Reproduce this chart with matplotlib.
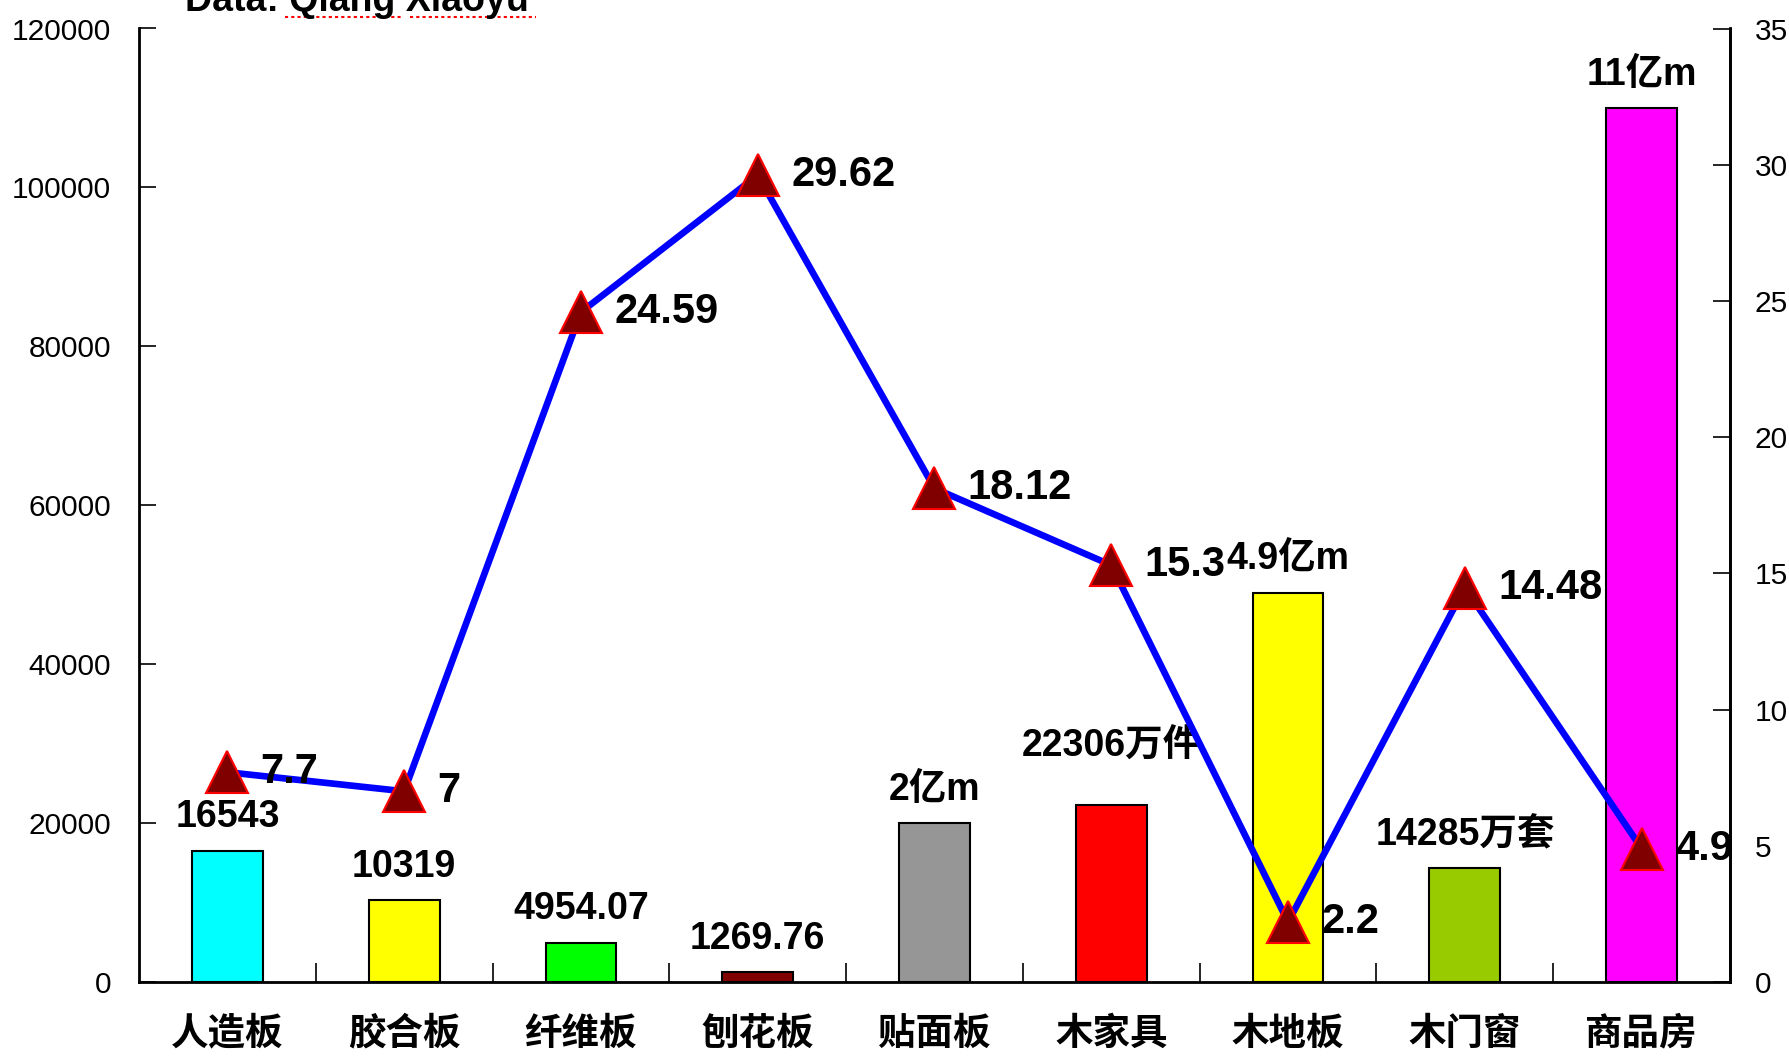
import matplotlib
matplotlib.use("Agg")
import matplotlib.pyplot as plt
from matplotlib.lines import Line2D

# ---- data ----
categories = ["人造板", "胶合板", "纤维板", "刨花板", "贴面板", "木家具", "木地板", "木门窗", "商品房"]
bar_values = [16543, 10319, 4954.07, 1269.76, 20000, 22306, 49000, 14285, 110000]
bar_labels = ["16543", "10319", "4954.07", "1269.76", "2亿m", "22306万件", "4.9亿m", "14285万套", "11亿m"]
bar_colors = ["#00FFFF", "#FFFF00", "#00FF00", "#800000", "#969696", "#FF0000", "#FFFF00", "#99CC00", "#FF00FF"]
line_values = [7.7, 7, 24.59, 29.62, 18.12, 15.3, 2.2, 14.48, 4.9]
line_labels = ["7.7", "7", "24.59", "29.62", "18.12", "15.3", "2.2", "14.48", "4.9"]
left_ticks = [0, 20000, 40000, 60000, 80000, 100000, 120000]
right_ticks = [0, 5, 10, 15, 20, 25, 30, 35]
title_text = "Data: Qiang Xiaoyu"

FAM = ["Liberation Sans", "Noto Sans CJK SC", "DejaVu Sans"]
plt.rcParams["font.family"] = FAM

fig = plt.figure(figsize=(17.9, 10.57), dpi=100)
ax = fig.add_axes([139/1790, 1 - 982/1057, (1730 - 139)/1790, (982 - 28.5)/1057])
ax2 = ax.twinx()

x = list(range(len(categories)))
ax.bar(x, bar_values, width=0.4, color=bar_colors, edgecolor="black", linewidth=1.5, zorder=2)
ax.set_xlim(-0.5, len(categories) - 0.5)
ax.set_ylim(0, 120000)
ax.set_yticks(left_ticks)
ax.set_yticklabels([str(t) for t in left_ticks])

# category ticks between bars
ax.set_xticks([i + 0.5 for i in x[:-1]], minor=True)
ax.set_xticks(x)
ax.set_xticklabels(categories, fontsize=27, fontweight="bold", family=FAM)
ax.tick_params(axis="x", which="major", length=0, pad=25)
ax.tick_params(axis="x", which="minor", direction="in", length=14, width=1.2)
ax.tick_params(axis="y", direction="in", length=12, width=1.2, labelsize=21.5, pad=20)

for s in ["left", "bottom", "right", "top"]:
    ax.spines[s].set_linewidth(2)
ax.spines["top"].set_visible(False)
ax2.spines["top"].set_visible(False)
ax2.spines["right"].set_linewidth(2)

# bar labels
for i, (v, lab) in enumerate(zip(bar_values, bar_labels)):
    off = 42 if i == 5 else 24
    ax.annotate(lab, (i, v), xytext=(0, off), textcoords="offset points",
                ha="center", va="center", fontsize=27, fontweight="bold",
                family=FAM, zorder=3)

# line on right axis
ax2.plot(x, line_values, color="#0000FF", linewidth=4.8, marker="^", markersize=30,
         markerfacecolor="#800000", markeredgecolor="#FF0000", markeredgewidth=1.5, zorder=4)
ax2.set_ylim(0, 35)
ax2.set_yticks(right_ticks)
ax2.tick_params(axis="y", direction="in", length=12, width=1.2, labelsize=21.5, pad=18)
for i, (v, lab) in enumerate(zip(line_values, line_labels)):
    ax2.annotate(lab, (i, v), xytext=(24, 0), textcoords="offset points",
                 ha="left", va="center", fontsize=30, fontweight="bold",
                 family=FAM, zorder=5, annotation_clip=False)

# cut-off title at top
fig.text(357/1790, 1 - 11/1057, title_text, ha="center", va="baseline",
         fontsize=27, fontweight="bold", family=FAM)
for x0, x1 in [(285, 402), (410, 536)]:
    fig.add_artist(Line2D([x0/1790, x1/1790], [1 - 17/1057, 1 - 17/1057],
                          color="red", linewidth=1.5, linestyle=(0, (1.5, 1.5))))

fig.savefig("out.png", dpi=100)
